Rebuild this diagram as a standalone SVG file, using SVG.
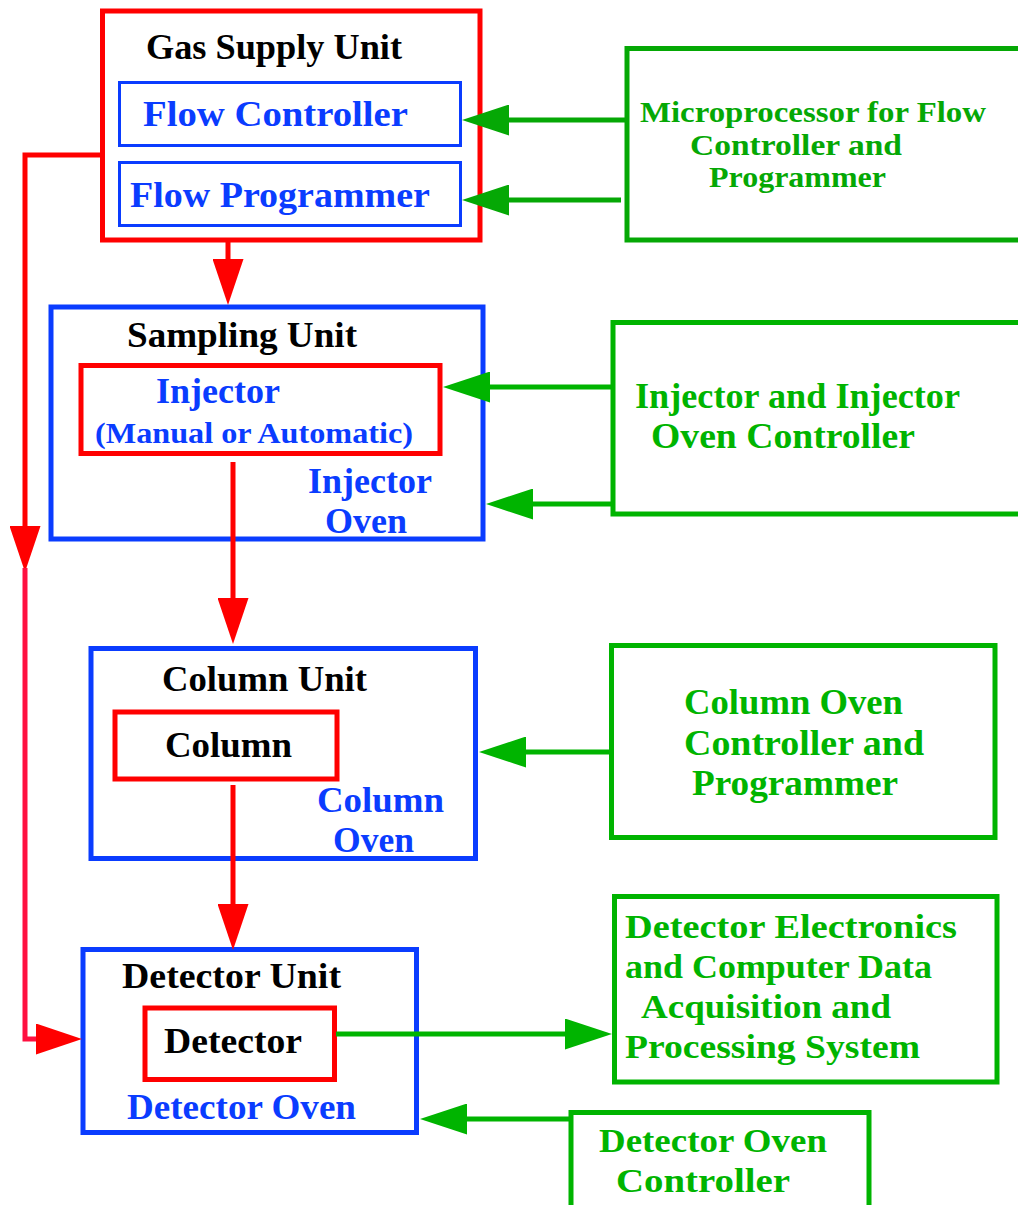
<svg xmlns="http://www.w3.org/2000/svg" width="1018" height="1205" viewBox="0 0 1018 1205">
<style>
text{font-family:"Liberation Serif","Times New Roman",serif;font-weight:bold;}
.k{fill:#000;font-size:36px}
.b{fill:#0a3cff;font-size:36px}
.g{fill:#00b400;font-size:35px}
.g1{fill:#05a805;font-size:30px}
.rb{fill:none;stroke:#ff0000;stroke-width:5}
.bb{fill:none;stroke:#0a3cff;stroke-width:5}
.bi{fill:none;stroke:#0a3cff;stroke-width:3}
.gb{fill:none;stroke:#00b400;stroke-width:5}
.gb1{fill:none;stroke:#05a805;stroke-width:5}
.rl{fill:none;stroke:#ff0000;stroke-width:5}
.rp{fill:none;stroke:#ff1040;stroke-width:5}
.gl{fill:none;stroke:#00b400;stroke-width:5}
.gl1{fill:none;stroke:#05a805;stroke-width:5}
</style>
<defs>
<marker id="ar" markerUnits="userSpaceOnUse" markerWidth="46" markerHeight="31" viewBox="0 0 46 31" refX="0" refY="15.5" orient="auto"><path d="M0,0 L46,15.5 L0,31 z" fill="#ff0000"/></marker>
<marker id="ag" markerUnits="userSpaceOnUse" markerWidth="47" markerHeight="31" viewBox="0 0 47 31" refX="0" refY="15.5" orient="auto"><path d="M0,0 L47,15.5 L0,31 z" fill="#00b400"/></marker>
<marker id="ag1" markerUnits="userSpaceOnUse" markerWidth="47" markerHeight="31" viewBox="0 0 47 31" refX="0" refY="15.5" orient="auto"><path d="M0,0 L47,15.5 L0,31 z" fill="#05a805"/></marker>
</defs>
<rect width="1018" height="1205" fill="#fff"/>
<g id="gas-supply">
<rect class="rb" x="102.5" y="11" width="377.5" height="229"/>
<text class="k" x="146" y="59" textLength="256" lengthAdjust="spacingAndGlyphs">Gas Supply Unit</text>
<rect class="bi" x="119.5" y="82.5" width="341" height="63"/>
<text class="b" x="143" y="126" textLength="265" lengthAdjust="spacingAndGlyphs">Flow Controller</text>
<rect class="bi" x="119.5" y="162.5" width="341" height="63"/>
<text class="b" x="130" y="207" textLength="300" lengthAdjust="spacingAndGlyphs">Flow Programmer</text>
</g>
<g id="microprocessor">
<rect class="gb1" x="627" y="48.5" width="500" height="191.5"/>
<text class="g1" x="640" y="122" textLength="346" lengthAdjust="spacingAndGlyphs">Microprocessor for Flow</text>
<text class="g1" x="690" y="155" textLength="212" lengthAdjust="spacingAndGlyphs">Controller and</text>
<text class="g1" x="709" y="187" textLength="177" lengthAdjust="spacingAndGlyphs">Programmer</text>
</g>
<g id="sampling">
<rect class="bb" x="51" y="307" width="432" height="232"/>
<text class="k" x="127" y="347" textLength="230" lengthAdjust="spacingAndGlyphs">Sampling Unit</text>
<rect class="rb" x="81" y="365.5" width="359" height="88"/>
<text class="b" x="156" y="403" textLength="124" lengthAdjust="spacingAndGlyphs">Injector</text>
<text class="b" x="95" y="443" style="font-size:29px" textLength="318" lengthAdjust="spacingAndGlyphs">(Manual or Automatic)</text>
<text class="b" x="308" y="493" textLength="124" lengthAdjust="spacingAndGlyphs">Injector</text>
<text class="b" x="325" y="533" textLength="82" lengthAdjust="spacingAndGlyphs">Oven</text>
</g>
<g id="injector-controller">
<rect class="gb" x="613" y="322.5" width="500" height="191.5"/>
<text class="g" x="635" y="408" style="font-size:36px" textLength="325" lengthAdjust="spacingAndGlyphs">Injector and Injector</text>
<text class="g" x="651" y="448" style="font-size:36px" textLength="264" lengthAdjust="spacingAndGlyphs">Oven Controller</text>
</g>
<g id="column">
<rect class="bb" x="91" y="648.5" width="384.5" height="210"/>
<text class="k" x="162" y="691" textLength="205" lengthAdjust="spacingAndGlyphs">Column Unit</text>
<rect class="rb" x="115" y="712" width="222" height="67"/>
<text class="k" x="165" y="757" textLength="127" lengthAdjust="spacingAndGlyphs">Column</text>
<text class="b" x="317" y="812" textLength="127" lengthAdjust="spacingAndGlyphs">Column</text>
<text class="b" x="333" y="852" textLength="81" lengthAdjust="spacingAndGlyphs">Oven</text>
</g>
<g id="column-controller">
<rect class="gb" x="611.5" y="645.5" width="383.5" height="192"/>
<text class="g" x="684" y="714" textLength="219" lengthAdjust="spacingAndGlyphs">Column Oven</text>
<text class="g" x="684" y="755" textLength="240" lengthAdjust="spacingAndGlyphs">Controller and</text>
<text class="g" x="692" y="795" textLength="206" lengthAdjust="spacingAndGlyphs">Programmer</text>
</g>
<g id="detector">
<rect class="bb" x="83" y="949.5" width="333.5" height="183"/>
<text class="k" x="122" y="988" textLength="219" lengthAdjust="spacingAndGlyphs">Detector Unit</text>
<rect class="rb" x="145" y="1008" width="189.5" height="71.5"/>
<text class="k" x="164" y="1053" textLength="138" lengthAdjust="spacingAndGlyphs">Detector</text>
<text class="b" x="127" y="1119" textLength="229" lengthAdjust="spacingAndGlyphs">Detector Oven</text>
</g>
<g id="data-system">
<rect class="gb" x="614.5" y="896.5" width="382.5" height="185.5"/>
<text class="g" x="625" y="938" style="font-size:34px" textLength="332" lengthAdjust="spacingAndGlyphs">Detector Electronics</text>
<text class="g" x="625" y="978" style="font-size:34px" textLength="307" lengthAdjust="spacingAndGlyphs">and Computer Data</text>
<text class="g" x="641" y="1018" style="font-size:34px" textLength="250" lengthAdjust="spacingAndGlyphs">Acquisition and</text>
<text class="g" x="625" y="1058" style="font-size:34px" textLength="295" lengthAdjust="spacingAndGlyphs">Processing System</text>
</g>
<g id="detector-controller">
<rect class="gb" x="571" y="1112.5" width="298" height="200"/>
<text class="g" x="599" y="1152" style="font-size:34px" textLength="228" lengthAdjust="spacingAndGlyphs">Detector Oven</text>
<text class="g" x="616" y="1192" style="font-size:34px" textLength="174" lengthAdjust="spacingAndGlyphs">Controller</text>
</g>
<g id="connectors">
<path class="rl" d="M228,242 V259" marker-end="url(#ar)"/>
<path class="rl" d="M233,462 V598" marker-end="url(#ar)"/>
<path class="rl" d="M233,785 V904" marker-end="url(#ar)"/>
<path class="rl" d="M102,155 H25 V526" marker-end="url(#ar)"/>
<path class="rp" d="M25,568 V1039 H36" marker-end="url(#ar)"/>
<path class="gl1" d="M626,120 H509" marker-end="url(#ag1)"/>
<path class="gl1" d="M621,200 H509" marker-end="url(#ag1)"/>
<path class="gl" d="M613,387 H490" marker-end="url(#ag)"/>
<path class="gl" d="M613,504 H533" marker-end="url(#ag)"/>
<path class="gl" d="M611,752 H526" marker-end="url(#ag)"/>
<path class="gl" d="M336,1034 H565" marker-end="url(#ag)"/>
<path class="gl" d="M571,1119 H467" marker-end="url(#ag)"/>
</g>
</svg>
